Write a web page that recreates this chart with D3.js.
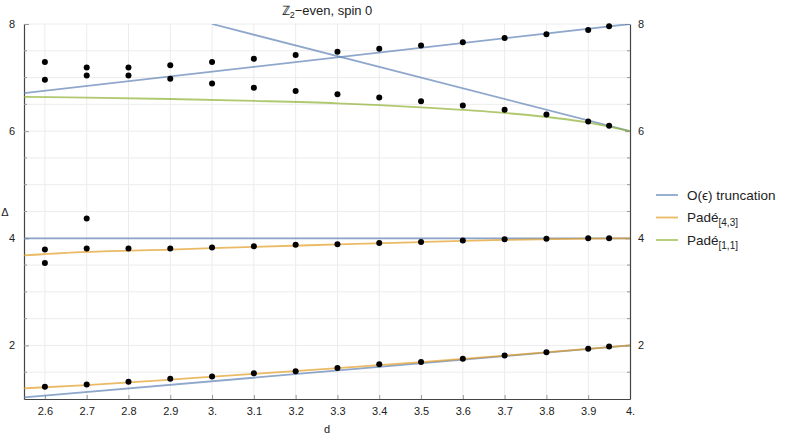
<!DOCTYPE html>
<html>
<head>
<meta charset="utf-8">
<script src="https://cdn.jsdelivr.net/npm/d3@7"></script>
<style>
  body { margin: 0; background: #fff; }
  text { font-family: "Liberation Sans", Arial, sans-serif; fill: #222; }
</style>
</head>
<body>
<div id="chart"></div>
<script>
// dimension values of the data points
const dPoints = [2.6, 2.7, 2.8, 2.9, 3.0, 3.1, 3.2, 3.3, 3.4, 3.5, 3.6, 3.7, 3.8, 3.9, 3.95];
const upperHigh = [7.29, 7.19, 7.19, 7.23, 7.29, 7.35, 7.42, 7.48, 7.54, 7.60, 7.66, 7.74, 7.81, 7.89, 7.96];
const upperLow = [6.96, 7.04, 7.04, 6.98, 6.89, 6.81, 6.75, 6.69, 6.63, 6.56, 6.48, 6.40, 6.31, 6.18, 6.10];
const middle = [3.79, 3.81, 3.81, 3.81, 3.83, 3.85, 3.88, 3.89, 3.91, 3.93, 3.96, 3.98, 3.99, 4.0, 4.0];
const lower = [1.23, 1.27, 1.32, 1.38, 1.42, 1.48, 1.52, 1.58, 1.65, 1.69, 1.75, 1.81, 1.875, 1.94, 1.98];
const extraD = [2.6, 2.7];
const extraVals = [3.54, 4.37];

// O(eps) truncation lines (straight)
const blueRiseD = [2.55, 4.0], blueRise = [6.71, 8.0];
const blueFallD = [3.0, 4.0], blueFall = [8.0, 6.0];
const blueFlatD = [2.55, 4.0], blueFlat = [4.0, 4.0];
const blueLowD = [2.55, 4.0], blueLow = [1.03, 2.0];

// Pade curves
const curveD = [2.55, 2.7, 2.9, 3.1, 3.3, 3.5, 3.7, 3.9, 4.0];
const pade43Mid = [3.68, 3.745, 3.79, 3.84, 3.885, 3.93, 3.97, 3.995, 4.0];
const pade43Low = [1.20, 1.26, 1.36, 1.47, 1.575, 1.69, 1.81, 1.935, 2.0];
const pade11 = [6.64, 6.625, 6.60, 6.565, 6.52, 6.445, 6.34, 6.16, 6.0];

const xTicks = [2.6, 2.7, 2.8, 2.9, 3.0, 3.1, 3.2, 3.3, 3.4, 3.5, 3.6, 3.7, 3.8, 3.9, 4.0];
const xTickLabels = ['2.6', '2.7', '2.8', '2.9', '3.', '3.1', '3.2', '3.3', '3.4', '3.5', '3.6', '3.7', '3.8', '3.9', '4.'];
const yTicks = [2, 4, 6, 8];
const yGrid = [1.5, 2, 2.5, 3, 3.5, 4, 4.5, 5, 5.5, 6, 6.5, 7, 7.5, 8];

const colors = {blue: '#5E81B5', orange: '#E19C24', green: '#8FB032'};

const width = 789, height = 441;
const padLeft = 24, padRight = 630, padTop = 24, padBottom = 399;

const svg = d3.select('#chart').append('svg').attr('width', width).attr('height', height);

const x = d3.scaleLinear().domain([2.55, 4.0]).range([padLeft, padRight]);
const y = d3.scaleLinear().domain([1, 8]).range([padBottom, padTop]);

// grid
svg.append('g').selectAll('line').data(xTicks.slice(0, -1)).join('line')
  .attr('x1', d => x(d)).attr('x2', d => x(d)).attr('y1', padTop).attr('y2', padBottom)
  .attr('stroke', '#ececec').attr('stroke-width', 1);
svg.append('g').selectAll('line').data(yGrid).join('line')
  .attr('x1', padLeft).attr('x2', padRight).attr('y1', d => y(d)).attr('y2', d => y(d))
  .attr('stroke', '#ececec').attr('stroke-width', 1);

// axes (inward ticks, Mathematica frame style)
const fmtX = d => xTickLabels[xTicks.indexOf(d)];
const bottomAxis = svg.append('g').attr('transform', `translate(0,${padBottom})`)
  .call(d3.axisBottom(x).tickValues(xTicks).tickFormat(fmtX).tickSizeInner(-4).tickSizeOuter(0).tickPadding(8));
const leftAxis = svg.append('g').attr('transform', `translate(${padLeft},0)`)
  .call(d3.axisLeft(y).tickValues(yTicks).tickFormat(d3.format('d')).tickSizeInner(-5).tickSizeOuter(0).tickPadding(9));
const rightAxis = svg.append('g').attr('transform', `translate(${padRight},0)`)
  .call(d3.axisRight(y).tickValues(yTicks).tickFormat(d3.format('d')).tickSizeInner(-5).tickSizeOuter(0).tickPadding(8));

// minor ticks
const minorY = yGrid.filter(v => !yTicks.includes(v));
svg.append('g').selectAll('line').data(minorY).join('line')
  .attr('x1', padLeft).attr('x2', padLeft + 3).attr('y1', d => y(d)).attr('y2', d => y(d)).attr('stroke', '#999');
svg.append('g').selectAll('line').data(minorY).join('line')
  .attr('x1', padRight - 3).attr('x2', padRight).attr('y1', d => y(d)).attr('y2', d => y(d)).attr('stroke', '#999');

[bottomAxis, leftAxis, rightAxis].forEach(g => {
  g.select('.domain').attr('stroke', '#444').attr('stroke-width', 1.2);
  g.selectAll('.tick line').attr('stroke', '#999');
  g.selectAll('.tick text').attr('font-size', 11).attr('fill', '#222')
    .attr('font-family', '"Liberation Sans", Arial, sans-serif');
});

// clip for curves
svg.append('clipPath').attr('id', 'clip').append('rect')
  .attr('x', padLeft).attr('y', padTop).attr('width', padRight - padLeft).attr('height', padBottom - padTop);
const plot = svg.append('g').attr('clip-path', 'url(#clip)');

function drawCurve(ds, vals, color, curve) {
  const line = d3.line().x((d, i) => x(ds[i])).y(d => y(d)).curve(curve || d3.curveLinear);
  plot.append('path').datum(vals).attr('d', line)
    .attr('fill', 'none').attr('stroke', color).attr('stroke-width', 1.8).attr('stroke-opacity', 0.7);
}

drawCurve(blueRiseD, blueRise, colors.blue);
drawCurve(blueFallD, blueFall, colors.blue);
drawCurve(blueFlatD, blueFlat, colors.blue);
drawCurve(blueLowD, blueLow, colors.blue);
drawCurve(curveD, pade43Mid, colors.orange, d3.curveMonotoneX);
drawCurve(curveD, pade43Low, colors.orange, d3.curveMonotoneX);
drawCurve(curveD, pade11, colors.green, d3.curveMonotoneX);

// points
const pts = [];
[upperHigh, upperLow, middle, lower].forEach(series => {
  series.forEach((v, i) => pts.push([dPoints[i], v]));
});
extraVals.forEach((v, i) => pts.push([extraD[i], v]));
svg.append('g').selectAll('circle').data(pts).join('circle')
  .attr('cx', d => x(d[0])).attr('cy', d => y(d[1])).attr('r', 3).attr('fill', '#000');

// title
const title = svg.append('text').attr('x', 327).attr('y', 15).attr('text-anchor', 'middle').attr('font-size', 13);
title.append('tspan').text('ℤ');
title.append('tspan').text('2').attr('font-size', 9).attr('dy', 3);
title.append('tspan').text('\u2212even, spin 0').attr('dy', -3);

// axis labels
svg.append('text').attr('x', 5).attr('y', 216).attr('font-size', 11).attr('text-anchor', 'middle').text('Δ');
svg.append('text').attr('x', 327).attr('y', 433).attr('font-size', 11).attr('text-anchor', 'middle').text('d');

// legend
const legendItems = [
  {color: colors.blue, main: 'O(\u03F5) truncation', sub: ''},
  {color: colors.orange, main: 'Padé', sub: '[4,3]'},
  {color: colors.green, main: 'Padé', sub: '[1,1]'}
];
const legend = svg.append('g');
legendItems.forEach((item, i) => {
  const ly = 195 + i * 22.5;
  legend.append('line').attr('x1', 656).attr('x2', 678).attr('y1', ly).attr('y2', ly)
    .attr('stroke', item.color).attr('stroke-width', 1.8).attr('stroke-opacity', 0.7);
  const t = legend.append('text').attr('x', 687).attr('y', ly + 4.5).attr('font-size', 13.5);
  t.append('tspan').text(item.main);
  if (item.sub) t.append('tspan').text(item.sub).attr('font-size', 10).attr('dy', 4);
});
</script>
</body>
</html>
